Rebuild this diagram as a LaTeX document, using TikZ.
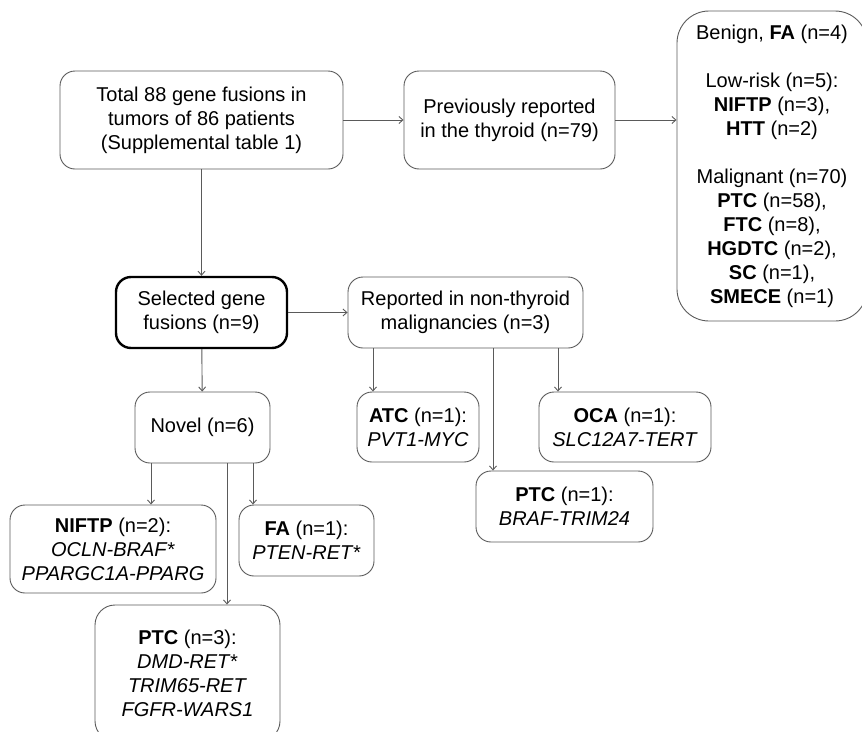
\documentclass[tikz,border=0pt]{standalone}
\usepackage{fontspec}
\setmainfont{Liberation Sans}
\usetikzlibrary{arrows.meta}

\definecolor{edgegray}{RGB}{90,90,90}

\tikzstyle{box} = [rectangle, rounded corners=15pt, draw=edgegray, line width=0.9pt,
    align=center, inner sep=0pt, font=\fontsize{20}{24}\selectfont]
\tikzstyle{boxsel} = [box, draw=black, line width=2.4pt]
\tikzstyle{arrow} = [draw=edgegray, line width=0.9pt, -{Straight Barb[length=4pt,width=7pt]}]

\begin{document}
\begin{tikzpicture}[x=1pt,y=-1pt]
	\useasboundingbox (0,0) rectangle (862,731);
	\clip (0,0) rectangle (862,731);
	%
	\node [box, minimum width=283pt, minimum height=98pt] (total) at (201.5,120)
		{Total 88 gene fusions in\\tumors of 86 patients\\(Supplemental table 1)};
	\node [box, minimum width=211pt, minimum height=98pt] (prev) at (509.5,120)
		{Previously reported\\in the thyroid (n=79)};
	\node [box, rounded corners=32pt, minimum width=190pt, minimum height=310pt] (thyroid) at (772,166)
		{Benign, \textbf{FA} (n=4)\\[24pt]
		 Low-risk (n=5):\\\textbf{NIFTP} (n=3),\\\textbf{HTT} (n=2)\\[24pt]
		 Malignant (n=70)\\\textbf{PTC} (n=58),\\\textbf{FTC} (n=8),\\\textbf{HGDTC} (n=2),\\\textbf{SC} (n=1),\\\textbf{SMECE} (n=1)};
	%
	\node [boxsel, minimum width=171pt, minimum height=71pt] (selected) at (201.5,312.5)
		{Selected gene\\fusions (n=9)};
	\node [box, minimum width=235pt, minimum height=71pt] (reported) at (465.5,312.5)
		{Reported in non-thyroid\\malignancies (n=3)};
	%
	\node [box, minimum width=135pt, minimum height=71pt] (novel) at (202.5,427.5)
		{Novel (n=6)};
	\node [box, minimum width=206pt, minimum height=88pt] (niftp) at (113,549)
		{\textbf{NIFTP} (n=2):\\\textit{OCLN-BRAF*}\\\textit{PPARGC1A-PPARG}};
	\node [box, minimum width=135pt, minimum height=71pt] (fa) at (306.5,540.5)
		{\textbf{FA} (n=1):\\\textit{PTEN-RET*}};
	\node [box, rounded corners=20pt, minimum width=185pt, minimum height=136pt] (ptcnovel) at (187.5,673)
		{\textbf{PTC} (n=3):\\\textit{DMD-RET*}\\\textit{TRIM65-RET}\\\textit{FGFR-WARS1}};
	%
	\node [box, minimum width=122pt, minimum height=70pt] (atc) at (418,427)
		{\textbf{ATC} (n=1):\\\textit{PVT1-MYC}};
	\node [box, minimum width=172pt, minimum height=70pt] (oca) at (625,427)
		{\textbf{OCA} (n=1):\\\textit{SLC12A7-TERT}};
	\node [box, minimum width=177pt, minimum height=71pt] (ptcrep) at (564.5,506.5)
		{\textbf{PTC} (n=1):\\\textit{BRAF-TRIM24}};
	%
	\draw [arrow] (total) -- (prev);
	\draw [arrow] (prev.east) -- (prev.east -| thyroid.west);
	\draw [arrow] (total) -- (selected);
	\draw [arrow] (selected) -- (reported);
	\draw [arrow] (selected) -- (novel);
	%
	\draw [arrow] ([xshift=-51.5pt]novel.south) -- ([xshift=-51.5pt]novel.south |- niftp.north);
	\draw [arrow] ([xshift=24.5pt]novel.south) -- ([xshift=24.5pt]novel.south |- ptcnovel.north);
	\draw [arrow] ([xshift=50.5pt]novel.south) -- ([xshift=50.5pt]novel.south |- fa.north);
	%
	\draw [arrow] ([xshift=-92.5pt]reported.south) -- ([xshift=-92.5pt]reported.south |- atc.north);
	\draw [arrow] ([xshift=27.5pt]reported.south) -- ([xshift=27.5pt]reported.south |- ptcrep.north);
	\draw [arrow] ([xshift=92.5pt]reported.south) -- ([xshift=92.5pt]reported.south |- oca.north);
\end{tikzpicture}
\end{document}
